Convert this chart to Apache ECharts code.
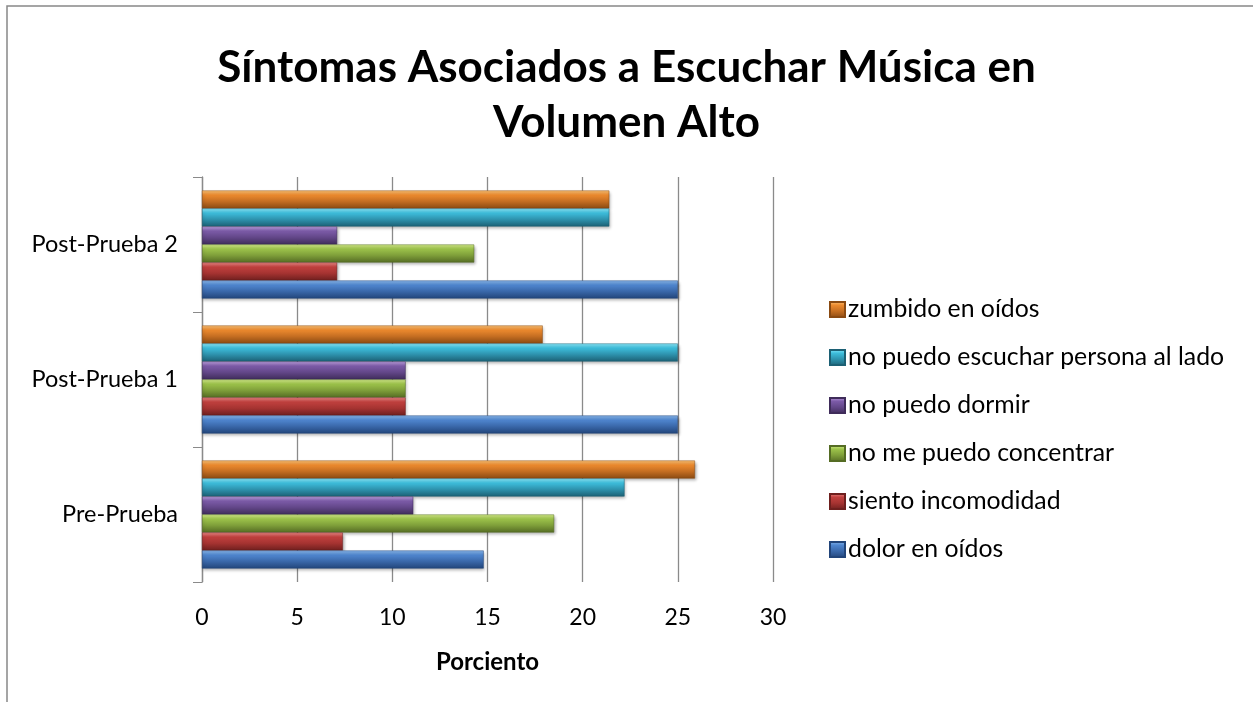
<!DOCTYPE html>
<html><head><meta charset="utf-8">
<script src="https://cdn.jsdelivr.net/npm/echarts@6/dist/echarts.min.js"></script>
<style>html,body{margin:0;padding:0;background:#fff}#c{width:1253px;height:702px}</style>
</head><body><div id="c"></div>
<script>
const categories = ['Pre-Prueba', 'Post-Prueba 1', 'Post-Prueba 2'];
const seriesNames = ['dolor en oídos', 'siento incomodidad', 'no me puedo concentrar', 'no puedo dormir', 'no puedo escuchar persona al lado', 'zumbido en oídos'];
const dolor = [14.8, 25, 25];
const incomodidad = [7.4, 10.7, 7.1];
const concentrar = [18.5, 10.7, 14.3];
const dormir = [11.1, 10.7, 7.1];
const escuchar = [22.2, 25, 21.4];
const zumbido = [25.9, 17.9, 21.4];
const xTicks = [0, 5, 10, 15, 20, 25, 30];

const values = [dolor, incomodidad, concentrar, dormir, escuchar, zumbido];
const palettes = [
  ['#8DBCF0', '#4F86CF', '#3A68AA', '#22457A'],
  ['#F08A88', '#C0403E', '#A53331', '#6E1F1E'],
  ['#D8F08E', '#9CC24A', '#7F9F3A', '#556C24'],
  ['#C2A4E4', '#7C5BA8', '#634789', '#3F2C5A'],
  ['#8EEEFF', '#3DBDDB', '#2E93AE', '#1C6074'],
  ['#FFC679', '#EC8A2E', '#C56E22', '#8A4A12']
];
function grad(p) {
  return new echarts.graphic.LinearGradient(0, 0, 0, 1, [
    {offset: 0, color: p[0]}, {offset: 0.25, color: p[1]},
    {offset: 0.6, color: p[2]}, {offset: 1, color: p[3]}
  ]);
}
const chart = echarts.init(document.getElementById('c'), null, {renderer: 'canvas'});
const font = 'Lato, "Open Sans", sans-serif';
// series drawn top-to-bottom within each category: zumbido first
const order = [5, 4, 3, 2, 1, 0];
chart.setOption({
  animation: false,
  backgroundColor: '#fff',
  textStyle: {fontFamily: font},
  graphic: [{type: 'rect', shape: {x: 7, y: 6, width: 1300, height: 750}, style: {fill: 'none', stroke: '#888', lineWidth: 1.5}, silent: true}],
  title: {
    text: 'Síntomas Asociados a Escuchar Música en\nVolumen Alto',
    left: 'center', top: 35,
    textStyle: {fontFamily: font, fontSize: 44, fontWeight: 'bold', color: '#000', lineHeight: 55}
  },
  legend: {
    orient: 'vertical', left: 824, top: 292,
    data: seriesNames.slice().reverse(),
    itemWidth: 15, itemHeight: 15, itemGap: 23, icon: 'rect',
    textStyle: {fontFamily: font, fontSize: 24.8, color: '#000', lineHeight: 24, padding: [0, 0, 0, -2]}
  },
  grid: {left: 202, right: 480, top: 177, bottom: 120, containLabel: false},
  xAxis: {
    type: 'value', min: 0, max: 30, interval: 5,
    name: 'Porciento', nameLocation: 'middle', nameGap: 68,
    nameTextStyle: {fontFamily: font, fontSize: 24, fontWeight: 'bold', color: '#000'},
    axisLine: {show: false}, axisTick: {show: false},
    axisLabel: {fontFamily: font, fontSize: 23, color: '#000', margin: 24,
      formatter: v => xTicks.includes(v) ? String(v) : ''},
    splitLine: {show: true, lineStyle: {color: '#8a8a8a', width: 1.3}}
  },
  yAxis: {
    type: 'category', data: categories,
    axisLine: {show: true, lineStyle: {color: '#8a8a8a', width: 1.3}},
    axisTick: {show: true, inside: false, length: 9, lineStyle: {color: '#8a8a8a'}},
    axisLabel: {fontFamily: font, fontSize: 23.5, color: '#000', margin: 24}
  },
  series: order.map(i => ({
    name: seriesNames[i], type: 'bar', data: values[i],
    barGap: '0%', barCategoryGap: '20%',
    itemStyle: {color: grad(palettes[i]), borderColor: palettes[i][3], borderWidth: 0.5,
      shadowColor: 'rgba(0,0,0,0.35)', shadowBlur: 3, shadowOffsetX: 1, shadowOffsetY: 2}
  }))
});
</script></body></html>
